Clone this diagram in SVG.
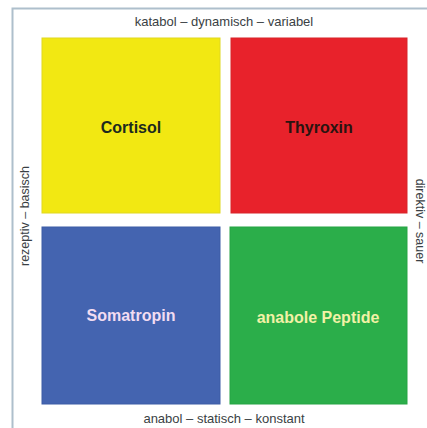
<svg xmlns="http://www.w3.org/2000/svg" width="427" height="428" viewBox="0 0 427 428">
<style>
.axis{font-family:"Liberation Sans",Arial,sans-serif;font-size:13px;fill:#3a3f44;text-anchor:middle}
.side{font-size:12.5px}
.lbl{font-family:"Liberation Sans",Arial,sans-serif;font-size:16px;font-weight:bold;text-anchor:middle}
.box{stroke-width:1}
</style>
<rect width="427" height="428" fill="#ffffff"/>
<path d="M12.5 428 V8.5 H427" fill="none" stroke="#aebfcc" stroke-width="2"/>
<g id="cortisol">
<rect class="box" x="42" y="38" width="178" height="175" fill="#f2e812" stroke="#e0d820"/>
<text class="lbl" x="131" y="133" fill="#1c2a1e">Cortisol</text>
</g>
<g id="thyroxin">
<rect class="box" x="231" y="38" width="176" height="175" fill="#e8222b" stroke="#d8242a"/>
<text class="lbl" x="319" y="133" fill="#2a1410">Thyroxin</text>
</g>
<g id="somatropin">
<rect class="box" x="42" y="227" width="178" height="177" fill="#4464b0" stroke="#3d5ca6"/>
<text class="lbl" x="131" y="321" fill="#f2dcf2">Somatropin</text>
</g>
<g id="peptide">
<rect class="box" x="230" y="227" width="177" height="177" fill="#2bae4a" stroke="#27a444"/>
<text class="lbl" x="318" y="323" fill="#f2f2a6">anabole Peptide</text>
</g>
<g id="axes">
<text class="axis" x="224" y="26">katabol – dynamisch – variabel</text>
<text class="axis" x="224" y="423">anabol – statisch – konstant</text>
<text class="axis side" transform="translate(29 216) rotate(-90)">rezeptiv – basisch</text>
<text class="axis side" transform="translate(416 221) rotate(90)">direktiv – sauer</text>
</g>
</svg>
